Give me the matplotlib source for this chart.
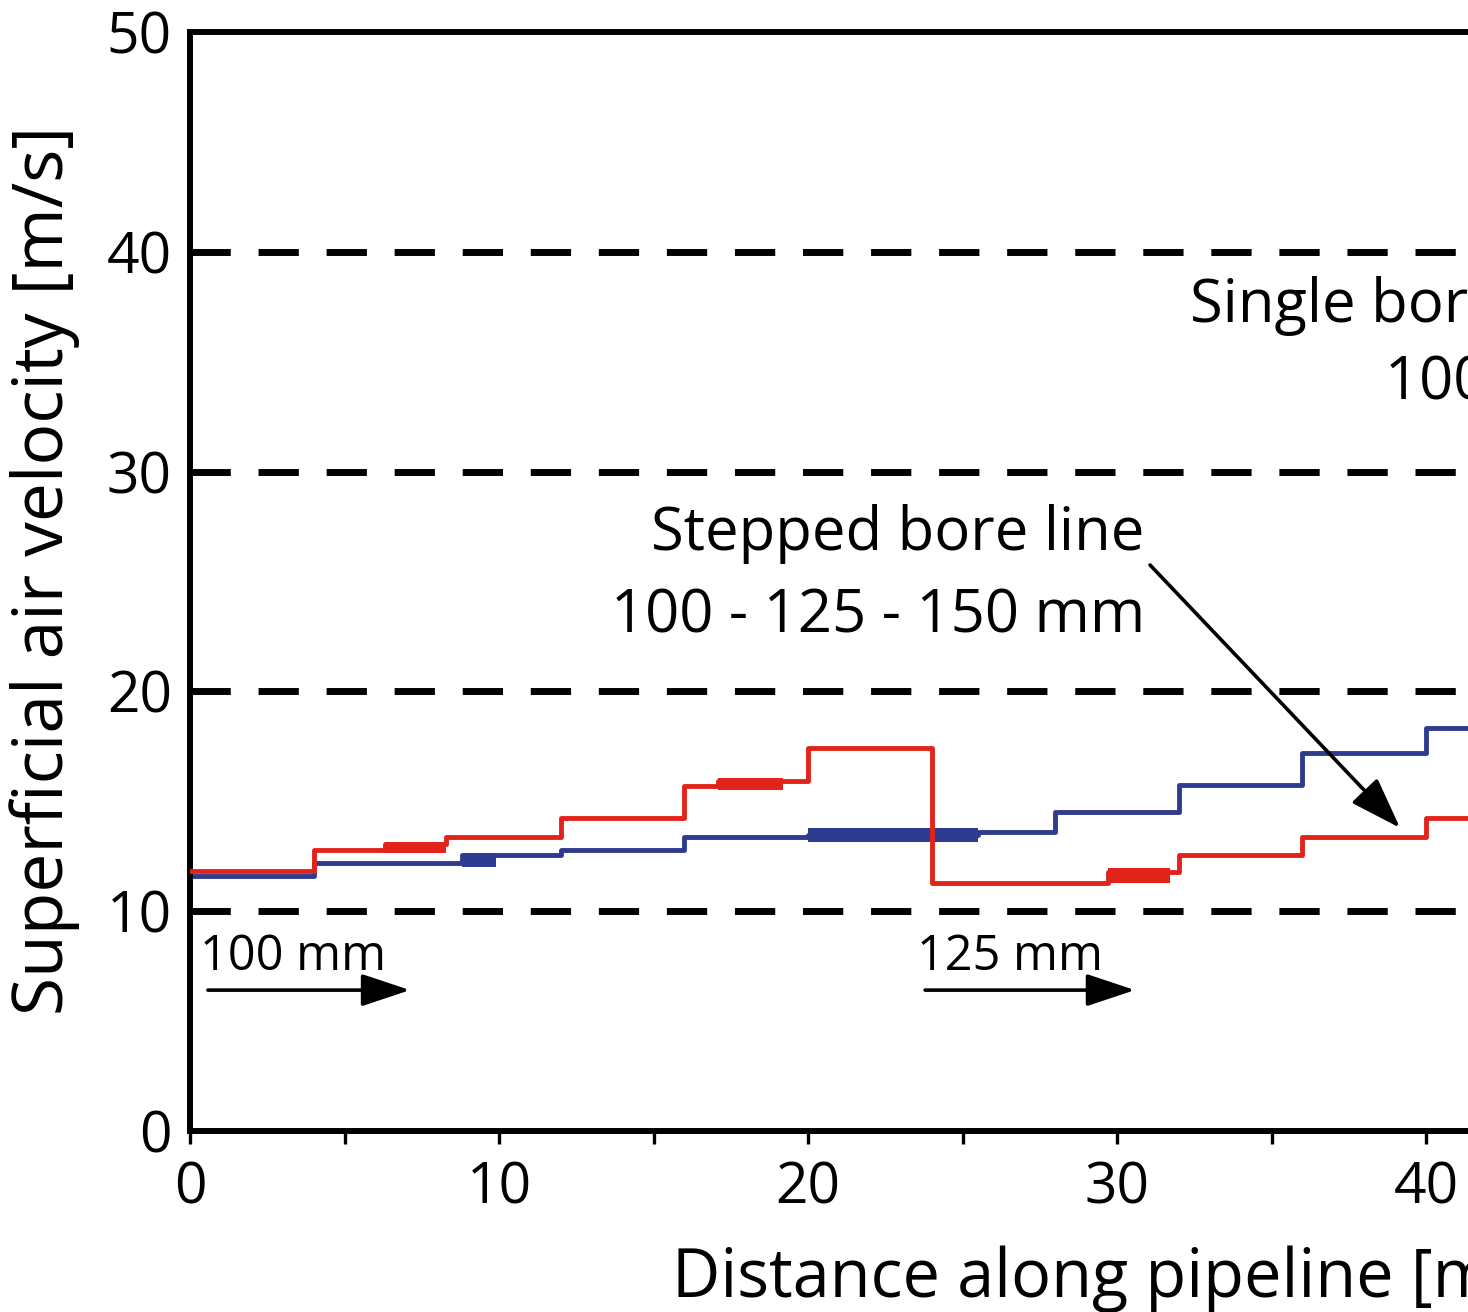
import matplotlib
matplotlib.use("Agg")
import matplotlib.pyplot as plt

plt.rcParams['font.family'] = ['Open Sans', 'DejaVu Sans']
plt.rcParams['lines.scale_dashes'] = False

# stepped bore line (red) - step edges [m] and velocity on each step [m/s]
red_edges = [0, 4, 6.3, 8.3, 12, 16, 17.1, 20, 24, 29.7, 32, 36, 40, 42.4]
red_vals = [11.84, 12.79, 13.06, 13.39, 14.23, 15.71, 15.92, 17.42, 11.30, 11.80, 12.56, 13.39, 14.23]
# places where the red line is drawn doubled (thick band)
red_band_x0 = [6.3, 17.1, 29.7]
red_band_x1 = [8.3, 19.2, 31.7]
red_band_lo = [12.65, 15.51, 11.28]
red_band_hi = [13.15, 16.05, 11.97]

# blue line
blue_edges = [0, 4, 8.8, 12, 16, 20, 25.5, 28, 32, 36, 40, 42.4]
blue_vals = [11.60, 12.18, 12.56, 12.78, 13.39, 13.47, 13.60, 14.53, 15.74, 17.18, 18.32]
blue_band_x0 = [8.8, 20.0]
blue_band_x1 = [9.9, 25.5]
blue_band_lo = [12.02, 13.16]
blue_band_hi = [12.63, 13.77]

# dashed reference velocities
ref_levels = [10, 20, 30, 40]

xticks = [0, 10, 20, 30, 40]
yticks = [0, 10, 20, 30, 40, 50]

RED = '#e2231a'
BLUE = '#2e3b8f'

fig = plt.figure(figsize=(14.68, 13.12), dpi=100)
ax = fig.add_axes([190/1468, 181/1312, 1310/1468, 1099/1312])
ax.set_xlim(0, 1310/30.9)
ax.set_ylim(0, 50)

for lev in ref_levels:
    ax.axhline(lev, color='k', lw=5, linestyle=(0, (29, 20)), zorder=1)

for x0, x1, lo, hi in zip(blue_band_x0, blue_band_x1, blue_band_lo, blue_band_hi):
    ax.fill_between([x0, x1], lo, hi, color=BLUE, lw=0, zorder=2)
ax.step(blue_edges, blue_vals + [blue_vals[-1]], where='post', color=BLUE, lw=3.5, zorder=2)

for x0, x1, lo, hi in zip(red_band_x0, red_band_x1, red_band_lo, red_band_hi):
    ax.fill_between([x0, x1], lo, hi, color=RED, lw=0, zorder=3)
ax.step(red_edges, red_vals + [red_vals[-1]], where='post', color=RED, lw=3.5, zorder=3)

# annotations
ax.annotate('', xy=(39.16, 13.79), xytext=(31.07, 25.75),
            arrowprops=dict(arrowstyle='-|>,head_length=1.6,head_width=0.55', mutation_scale=20,
                            color='k', lw=2.6, shrinkA=0, shrinkB=0), zorder=5)
ax.text(30.9, 26.43, 'Stepped bore line', ha='right', va='baseline', fontsize=43)
ax.text(30.9, 22.66, '100 - 125 - 150 mm', ha='right', va='baseline', fontsize=43)
ax.text(32.36, 36.8, 'Single bore line', ha='left', va='baseline', fontsize=43)
ax.text(38.67, 33.26, '100 mm', ha='left', va='baseline', fontsize=43)

for xs, xe, lab in [(0.58, 7.12, '100 mm'), (23.79, 30.58, '125 mm')]:
    ax.annotate('', xy=(xe, 6.41), xytext=(xs, 6.41),
                arrowprops=dict(arrowstyle='-|>,head_length=1.5,head_width=0.5', mutation_scale=20,
                                color='k', lw=2.6, shrinkA=0, shrinkB=0))
    ax.text(xs - 0.26, 7.32, lab, ha='left', va='baseline', fontsize=35)

ax.set_xticks(xticks)
ax.set_xticks([5, 15, 25, 35], minor=True)
ax.set_yticks(yticks)
ax.tick_params(axis='x', which='both', direction='out', length=9, width=2.4, labelsize=41, pad=12)
ax.tick_params(axis='y', which='both', length=0, labelsize=41, pad=13)

for side in ['left', 'bottom', 'top']:
    ax.spines[side].set_linewidth(4.3)
ax.spines['right'].set_visible(False)

ax.set_xlabel('Distance along pipeline [m]', fontsize=48, ha='left', va='baseline')
ax.xaxis.set_label_coords((672 - 190)/1310, -(1297 - 1131)/1099)
ax.set_ylabel('Superficial air velocity [m/s]', fontsize=50)
ax.yaxis.set_label_coords(-(190 - 80)/1310, (1131 - 570)/1099)

fig.savefig('out.png', dpi=100)
